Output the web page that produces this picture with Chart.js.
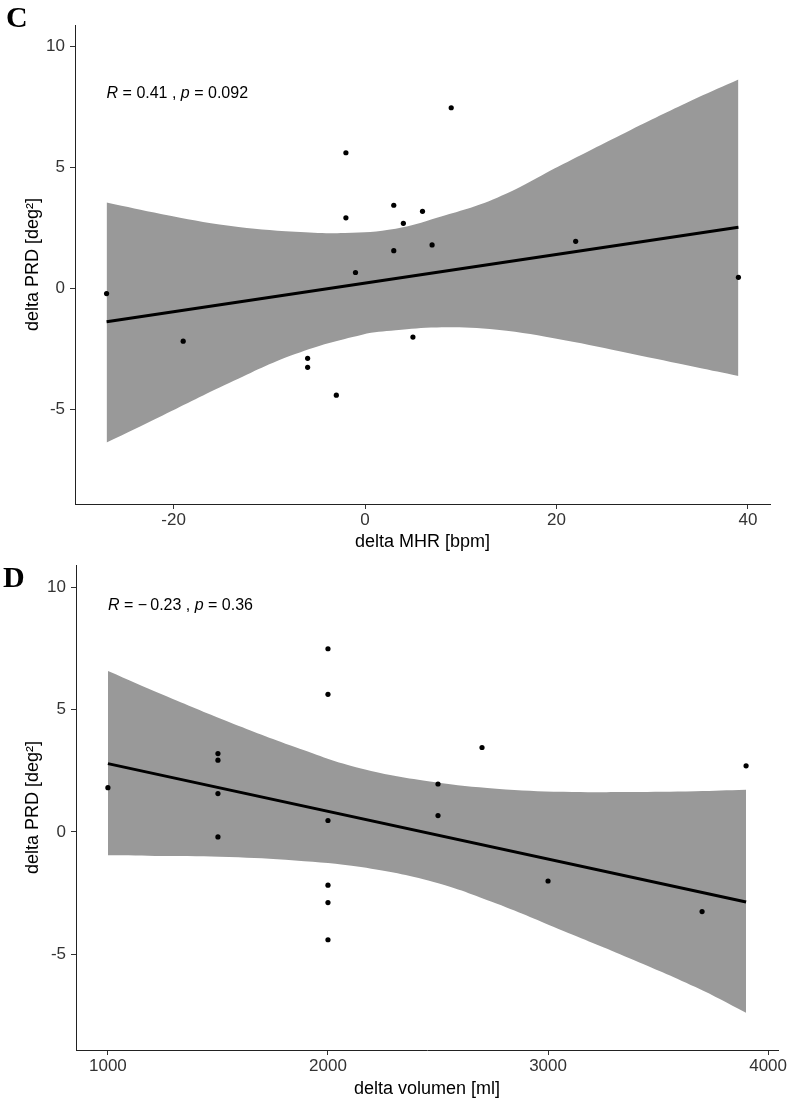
<!DOCTYPE html>
<html>
<head>
<meta charset="utf-8">
<script src="https://cdn.jsdelivr.net/npm/chart.js@4.4.0/dist/chart.umd.min.js"></script>
<style>
  html, body { margin: 0; padding: 0; background: #ffffff; }
  #wrap { position: relative; width: 790px; height: 1100px; overflow: hidden; }
  canvas { position: absolute; left: 0; }
  .panel-letter { position: absolute; font-family: "Liberation Serif", "DejaVu Serif", serif; font-weight: bold; font-size: 30px; line-height: 1; color: #000; }
</style>
</head>
<body>
<div id="wrap">
  <canvas id="chartC" width="790" height="555" style="top:0px"></canvas>
  <canvas id="chartD" width="790" height="545" style="top:555px"></canvas>
  <div class="panel-letter" style="left:6px; top:2px;">C</div>
  <div class="panel-letter" style="left:3px; top:562px;">D</div>
</div>
<script>
// ---- data ----
const deltaPRD     = [-0.2, -2.17, -2.88, -3.25, -4.4, 5.62, 2.93, 0.67, 3.45, 1.57, 2.7, -2.0, 3.2, 1.81, 7.48, 1.96, 0.47];
const deltaMHR     = [-27, -19, -6, -6, -3, -2, -2, -1, 3, 3, 4, 5, 6, 7, 9, 22, 39];
const deltaVolumen = [1500, 2000, 2000, 3700, 2000, 2000, 1500, 2500, 2700, 1500, 3900, 3000, 1500, 1000, 2000, 2500, 2000];

// regression line (end points) and confidence band, panel C
const mhrFitX      = [-27, 39];
const mhrFitY      = [-1.37, 2.54];
const mhrUpperX    = [-27, -21.2, -14.2, -7.3, -2.1, 3.2, 7.5, 13.8, 20.7, 27.7, 34.6, 39];
const mhrUpperY    = [3.56, 3.08, 2.6, 2.35, 2.3, 2.48, 2.93, 3.76, 5.15, 6.55, 7.87, 8.65];
const mhrLowerX    = [-27, -21.2, -14.2, -7.3, -0.3, 3.2, 7.5, 13.8, 20.7, 27.7, 34.6, 39];
const mhrLowerY    = [-6.36, -5.25, -3.9, -2.7, -1.9, -1.72, -1.6, -1.7, -2.12, -2.68, -3.25, -3.61];

// regression line and confidence band, panel D
const volFitX      = [1000, 3900];
const volFitY      = [2.79, -2.86];
const volUpperX    = [1000, 1250, 1550, 1850, 2150, 2480, 2765, 3070, 3370, 3670, 3900];
const volUpperY    = [6.57, 5.6, 4.49, 3.47, 2.59, 2.04, 1.77, 1.64, 1.63, 1.66, 1.72];
const volLowerX    = [1000, 1250, 1550, 1850, 2150, 2480, 2765, 3070, 3370, 3670, 3900];
const volLowerY    = [-0.95, -0.98, -1.02, -1.16, -1.43, -2.04, -2.92, -4.04, -5.15, -6.33, -7.38];

// tick labels
const yTicks    = [-5, 0, 5, 10];
const mhrTicks  = [-20, 0, 20, 40];
const volTicks  = [1000, 2000, 3000, 4000];

// axis titles & correlation labels
const yTitle    = 'delta PRD [deg\u00B2]';
const mhrTitle  = 'delta MHR [bpm]';
const volTitle  = 'delta volumen [ml]';
const corC = [{t: 'R', i: true}, {t: ' = 0.41 , '}, {t: 'p', i: true}, {t: ' = 0.092'}];
const corD = [{t: 'R', i: true}, {t: ' = \u2212\u20090.23 , '}, {t: 'p', i: true}, {t: ' = 0.36'}];

// ---- helpers ----
const SANS = '"Liberation Sans", Arial, Helvetica, sans-serif';
const zip = (xs, ys) => xs.map((v, i) => ({x: v, y: ys[i]}));

const corLabelPlugin = {
  id: 'corLabel',
  afterDatasetsDraw(chart, args, opts) {
    if (!opts || !opts.segments) return;
    const {ctx, scales} = chart;
    let px = scales.x.getPixelForValue(opts.x);
    const py = scales.y.getPixelForValue(opts.y);
    ctx.save();
    ctx.textBaseline = 'middle';
    ctx.textAlign = 'left';
    ctx.fillStyle = '#000';
    for (const seg of opts.segments) {
      ctx.font = (seg.i ? 'italic ' : '') + '16px ' + SANS;
      ctx.fillText(seg.t, px, py);
      px += ctx.measureText(seg.t).width;
    }
    ctx.restore();
  }
};

function makePanel(id, cfg) {
  const axisCommon = (extra) => Object.assign({
    type: 'linear',
    grid: { display: true, drawOnChartArea: false, drawTicks: true, tickLength: 5, color: '#333', lineWidth: 1 },
    border: { display: true, color: '#222', width: 1 },
  }, extra);

  return new Chart(document.getElementById(id), {
    type: 'scatter',
    data: {
      datasets: [
        { label: 'obs', data: zip(cfg.xs, deltaPRD), pointRadius: 2.6, pointHoverRadius: 2.6,
          pointBackgroundColor: '#000', pointBorderWidth: 0, order: 0 },
        { type: 'line', label: 'fit', data: zip(cfg.fitX, cfg.fitY), borderColor: '#000', borderWidth: 3,
          pointRadius: 0, fill: false, tension: 0, order: 1 },
        { type: 'line', label: 'upper', data: zip(cfg.upX, cfg.upY), borderColor: 'rgba(0,0,0,0)', borderWidth: 0,
          pointRadius: 0, fill: '+1', backgroundColor: '#999999', tension: 0.4, order: 2 },
        { type: 'line', label: 'lower', data: zip(cfg.loX, cfg.loY), borderColor: 'rgba(0,0,0,0)', borderWidth: 0,
          pointRadius: 0, fill: false, tension: 0.4, order: 3 }
      ]
    },
    options: {
      responsive: false,
      animation: false,
      devicePixelRatio: 1,
      events: [],
      layout: { padding: { top: cfg.padTop, right: cfg.padRight, left: 0, bottom: 0 } },
      plugins: {
        legend: { display: false },
        tooltip: { enabled: false },
        corLabel: { x: cfg.labX, y: cfg.labY, segments: cfg.cor }
      },
      scales: {
        x: axisCommon({
          position: 'bottom',
          min: cfg.xMin, max: cfg.xMax,
          afterBuildTicks: s => { s.ticks = cfg.xTicks.map(v => ({value: v})); },
          afterFit: s => { s.height = cfg.xAxisH; s.paddingLeft = 0; s.paddingRight = 0; },
          ticks: { color: '#333', font: { family: SANS, size: 17 }, padding: 1, maxRotation: 0, autoSkip: false,
                   callback: v => (v < 0 ? '-' + Math.abs(v) : String(v)) },
          title: { display: true, text: cfg.xTitle, color: '#000', font: { family: SANS, size: 18 },
                   padding: { top: 0, bottom: cfg.xTitlePad } }
        }),
        y: axisCommon({
          position: 'left',
          min: -8.9, max: 10.9,
          afterBuildTicks: s => { s.ticks = yTicks.map(v => ({value: v})); },
          afterFit: s => { s.width = cfg.yAxisW; s.paddingTop = 0; s.paddingBottom = 0; },
          ticks: { color: '#333', font: { family: SANS, size: 17 }, padding: 5, autoSkip: false,
                   callback: v => (v < 0 ? '-' + Math.abs(v) : String(v)) },
          title: { display: true, text: yTitle, color: '#000', font: { family: SANS, size: 18 },
                   padding: { top: cfg.yTitlePad, bottom: 0 } }
        })
      }
    },
    plugins: [corLabelPlugin]
  });
}

makePanel('chartC', {
  xs: deltaMHR, fitX: mhrFitX, fitY: mhrFitY,
  upX: mhrUpperX, upY: mhrUpperY, loX: mhrLowerX, loY: mhrLowerY,
  xMin: -30.3, xMax: 42.3, xTicks: mhrTicks, xTitle: mhrTitle,
  padTop: 25, padRight: 20, yAxisW: 75, xAxisH: 51, xTitlePad: 2, yTitlePad: 22,
  labX: -27, labY: 8.05, cor: corC
});

makePanel('chartD', {
  xs: deltaVolumen, fitX: volFitX, fitY: volFitY,
  upX: volUpperX, upY: volUpperY, loX: volLowerX, loY: volLowerY,
  xMin: 855, xMax: 4045, xTicks: volTicks, xTitle: volTitle,
  padTop: 10, padRight: 12, yAxisW: 76, xAxisH: 50, xTitlePad: 0, yTitlePad: 22,
  labX: 1000, labY: 9.26, cor: corD
});
</script>
</body>
</html>
